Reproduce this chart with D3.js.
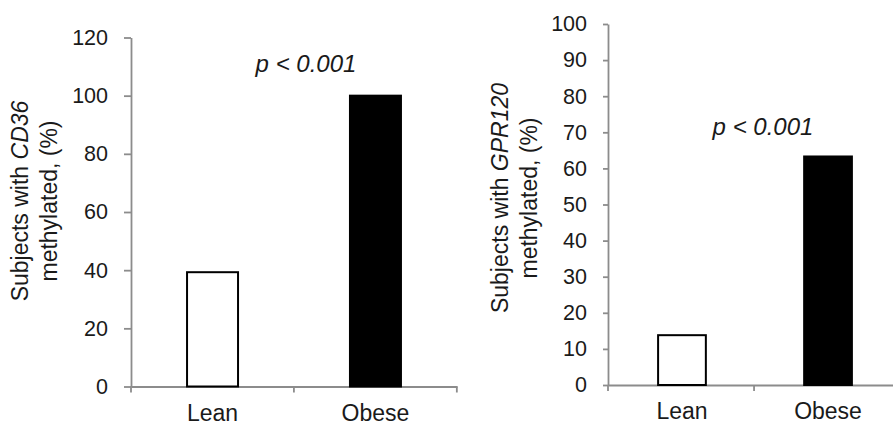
<!DOCTYPE html>
<head>
    <meta charset=utf-8>
    <title>Methylation by group</title>
    <script src="https://d3js.org/d3.v7.min.js"></script>
</head>
<style>
    body { margin: 0; background: #ffffff; }
    text {
        font-family: "Liberation Sans", Arial, sans-serif;
        fill: #1a1a1a;
    }
    .axis path, .axis line {
        stroke: #8c8c8c;
        stroke-width: 1.8px;
    }
    .tick text { font-size: 21.5px; }
    .xaxis .tick text { font-size: 23px; }
</style>
<body>
<script type="text/javascript">
    // data
    var categories = ["Lean", "Obese"];
    var cd36Values = [39.3, 100];
    var gpr120Values = [13.8, 63.3];
    var cd36Ticks = [0, 20, 40, 60, 80, 100, 120];
    var gpr120Ticks = [0, 10, 20, 30, 40, 50, 60, 70, 80, 90, 100];
    var barFills = ["#ffffff", "#000000"];
    var pLabel = "p < 0.001";

    var svg = d3.select("body")
        .append("svg")
        .attr("width", 893)
        .attr("height", 425);

    function drawPanel(opt) {
        var g = svg.append("g");

        var x = d3.scaleBand()
            .domain(categories)
            .range(opt.xRange)
            .paddingInner(opt.padIn)
            .paddingOuter(opt.padOut);

        var y = d3.scaleLinear()
            .domain([0, d3.max(opt.ticks)])
            .range(opt.yRange);

        // y axis
        g.append("g")
            .attr("class", "axis yaxis")
            .attr("transform", "translate(" + opt.xRange[0] + ",0)")
            .call(d3.axisLeft(y)
                .tickValues(opt.ticks)
                .tickSize(opt.yTick)
                .tickSizeOuter(0)
                .tickPadding(opt.yPad));

        // x axis, labels at band centres
        var xa = g.append("g")
            .attr("class", "axis xaxis")
            .attr("transform", "translate(0," + opt.yRange[0] + ")")
            .call(d3.axisBottom(x)
                .tickSize(0)
                .tickSizeOuter(0)
                .tickPadding(18));
        xa.selectAll(".tick line").remove();

        // separator ticks on band boundaries
        var bounds = d3.range(categories.length + 1)
            .map(i => opt.xRange[0] + i * x.step());
        xa.selectAll(".sep")
            .data(bounds)
            .enter()
            .append("line")
            .attr("class", "sep")
            .attr("x1", d => d)
            .attr("x2", d => d)
            .attr("y1", 0)
            .attr("y2", 6);

        // bars
        g.append("g")
            .selectAll("rect")
            .data(opt.values)
            .enter()
            .append("rect")
            .attr("x", (d, i) => x(categories[i]))
            .attr("y", d => y(d))
            .attr("width", x.bandwidth())
            .attr("height", d => y(0) - y(d))
            .attr("fill", (d, i) => barFills[i])
            .attr("stroke", "#000000")
            .attr("stroke-width", 2);

        // significance label
        g.append("text")
            .attr("x", opt.pPos[0])
            .attr("y", opt.pPos[1])
            .attr("text-anchor", "middle")
            .style("font-size", "24px")
            .style("font-style", "italic")
            .text(pLabel);

        // y label, two lines, gene name in italics
        var lab = g.append("g")
            .attr("transform", "rotate(-90)")
            .style("font-size", "23px");
        var l1 = lab.append("text")
            .attr("x", -opt.labelY)
            .attr("y", opt.labelX[0])
            .attr("text-anchor", "middle");
        l1.append("tspan").text("Subjects with ");
        l1.append("tspan").style("font-style", "italic").text(opt.gene);
        lab.append("text")
            .attr("x", -opt.labelY)
            .attr("y", opt.labelX[1])
            .attr("text-anchor", "middle")
            .text("methylated, (%)");
    }

    drawPanel({
        values: cd36Values,
        ticks: cd36Ticks,
        gene: "CD36",
        xRange: [131, 457],
        yRange: [386.5, 37.5],
        padIn: 0.687,
        padOut: 0.344,
        yTick: 7,
        yPad: 16,
        pPos: [306, 72],
        labelX: [28, 57],
        labelY: 201
    });

    drawPanel({
        values: gpr120Values,
        ticks: gpr120Ticks,
        gene: "GPR120",
        xRange: [608, 902],
        yRange: [385, 24],
        padIn: 0.673,
        padOut: 0.343,
        yTick: 5,
        yPad: 16,
        pPos: [763, 135],
        labelX: [508, 537],
        labelY: 198
    });
</script>
</body>
